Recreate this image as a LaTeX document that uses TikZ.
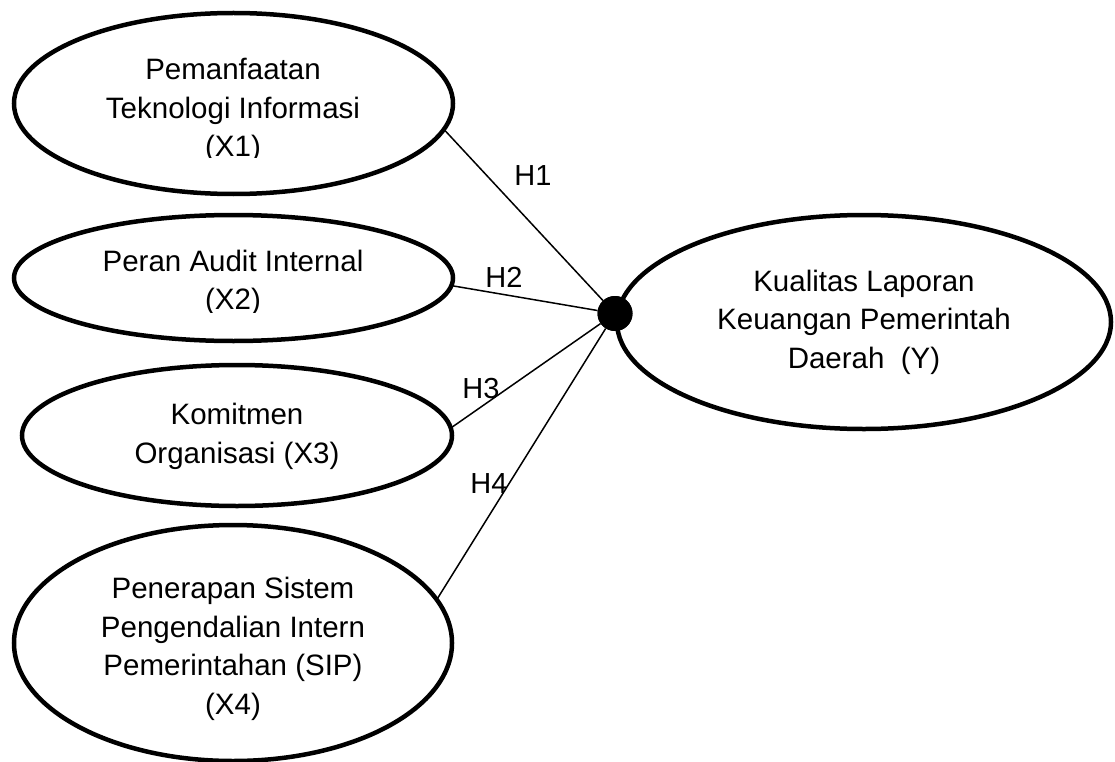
\documentclass[tikz,border=0pt]{standalone}
\usepackage{fontspec}
\setmainfont{Liberation Sans}
\usetikzlibrary{shapes.geometric}
\tikzset{
  var/.style={ellipse, draw, line width=4.5pt, inner sep=0pt, outer sep=0pt},
  lbl/.style={align=center, inner sep=0pt, font=\fontsize{29.5}{38.6}\selectfont},
  hyp/.style={inner sep=0pt, font=\fontsize{29}{34}\selectfont},
  conn/.style={line width=1.5pt},
  hub/.style={circle, fill=black, minimum size=35pt, inner sep=0pt}
}
\begin{document}
\begin{tikzpicture}[x=1pt, y=-1pt]
\useasboundingbox (0,0) rectangle (1115,762);
% ellipses
\node[var, minimum width=439pt, minimum height=181pt] (X1) at (233.5,103.5) {};
\node[var, minimum width=439pt, minimum height=126pt] (X2) at (233.5,278) {};
\node[var, minimum width=430pt, minimum height=141pt] (X3) at (237,435.5) {};
\node[var, minimum width=438pt, minimum height=236pt] (X4) at (233,643) {};
\node[var, minimum width=494pt, minimum height=214pt] (Y) at (864,322) {};
% texts
\begin{scope}
\clip (0,0) rectangle (1115,158);
\node[lbl] (t1) at (233,110.6) {Pemanfaatan\\Teknologi Informasi\\(X1)};
\end{scope}
\begin{scope}
\clip (0,200) rectangle (1115,312);
\node[lbl] (t2) at (233,282.7) {Peran Audit Internal\\(X2)};
\end{scope}
\node[lbl] (t3) at (237,436.2) {Komitmen\\Organisasi (X3)};
\node[lbl] (t4) at (233,649) {Penerapan Sistem\\Pengendalian Intern\\Pemerintahan (SIP)\\(X4)};
\node[lbl] (ty) at (864,322) {Kualitas Laporan\\Keuangan Pemerintah\\Daerah\ \ (Y)};
% hub
\node[hub] (dot) at (615,313.5) {};
% connectors
\draw[conn] (X1.-7) -- (dot);
\draw[conn] (X2.-2.6) -- (dot);
\draw[conn] (X3.2.6) -- (dot);
\draw[conn] (X4.12) -- (dot);
\node[hub] at (dot) {};
% hypothesis labels
\node[hyp] (h1) at (533,176) {H1};
\node[hyp] (h2) at (504,277) {H2};
\node[hyp] (h3) at (481,389) {H3};
\node[hyp] (h4) at (489,484) {H4};
\end{tikzpicture}
\end{document}
